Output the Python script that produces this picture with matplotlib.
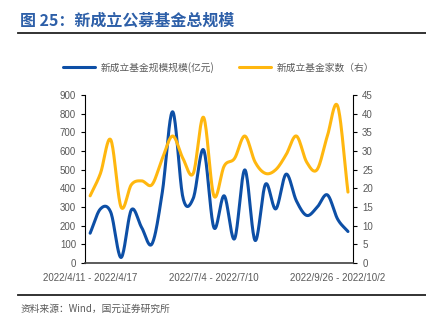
import numpy as np
import matplotlib
matplotlib.use("Agg")
import matplotlib.pyplot as plt

plt.rcParams["font.family"] = ["Liberation Sans", "Noto Sans CJK SC", "DejaVu Sans"]

# weekly data, 2022/4/11 onwards
weeks = list(range(26))
tick_pos = [0, 12, 24]
tick_labels = ["2022/4/11 - 2022/4/17", "2022/7/4 - 2022/7/10", "2022/9/26 - 2022/10/2"]
scale = [160, 290, 272, 30, 285, 190, 103, 380, 810, 350, 347, 606, 190, 360,
         130, 499, 121, 422, 290, 476, 333, 255, 298, 365, 235, 169]
counts = [18, 24, 33, 15, 21, 22, 21, 28, 34, 28, 24, 39, 18, 26,
          28, 34, 27, 24, 25, 29, 34, 27, 25, 34, 42, 19]

BLUE = "#0D4FA6"
YELLOW = "#FFB70F"
GREY = "#595959"


def smooth(x, y, n=20):
    # catmull-rom curve through the points, like excel's smoothed line
    x = np.asarray(x, float)
    y = np.asarray(y, float)
    px = np.concatenate([[2 * x[0] - x[1]], x, [2 * x[-1] - x[-2]]])
    py = np.concatenate([[2 * y[0] - y[1]], y, [2 * y[-1] - y[-2]]])
    xs, ys = [], []
    t = np.linspace(0, 1, n, endpoint=False)
    for i in range(1, len(px) - 2):
        for p, out in ((px, xs), (py, ys)):
            p0, p1, p2, p3 = p[i - 1], p[i], p[i + 1], p[i + 2]
            out.extend(0.5 * (2 * p1 + (-p0 + p2) * t
                              + (2 * p0 - 5 * p1 + 4 * p2 - p3) * t ** 2
                              + (-p0 + 3 * p1 - 3 * p2 + p3) * t ** 3))
    xs.append(x[-1])
    ys.append(y[-1])
    return np.array(xs), np.array(ys)


fig = plt.figure(figsize=(4.27, 3.24), dpi=100)
ax = fig.add_axes([0.199, 0.188, 0.628, 0.519])
ax2 = ax.twinx()

sx, sy = smooth(weeks, scale)
l1, = ax.plot(sx, sy, color=BLUE, lw=2.2, solid_capstyle="round")
cx, cy = smooth(weeks, counts)
l2, = ax2.plot(cx, cy, color=YELLOW, lw=2.2, solid_capstyle="round")

ax.set_xlim(-0.5, 25.5)
ax.set_ylim(0, 900)
ax.set_yticks(range(0, 901, 100))
ax2.set_ylim(0, 45)
ax2.set_yticks(range(0, 46, 5))
ax.set_xticks(tick_pos)
ax.set_xticklabels(tick_labels)

for a in (ax, ax2):
    a.tick_params(axis="y", labelsize=7, colors=GREY, length=3, width=0.8)
    for sp in a.spines.values():
        sp.set_visible(False)
ax.spines["left"].set_visible(True)
ax2.spines["right"].set_visible(True)
ax2.spines["bottom"].set_visible(True)
ax2.spines["bottom"].set_color("#404040")
ax2.spines["bottom"].set_linewidth(1.2)
ax.tick_params(axis="y", color="black")
ax2.tick_params(axis="y", color="black")
ax.tick_params(axis="x", labelsize=7, colors=GREY, length=0, pad=7)

fig.legend([l1, l2], ["新成立基金规模规模(亿元)", "新成立基金家数（右）"],
           loc="center", bbox_to_anchor=(0.512, 0.793), ncol=2, frameon=False,
           handlelength=3.3, columnspacing=2.6, handletextpad=0.5,
           prop={"family": ["Noto Sans CJK SC"], "size": 7}, labelcolor=GREY)

fig.text(0.047, 0.935, "图 25：新成立公募基金总规模", color="#2D5FA8",
         fontsize=11.5, fontweight="bold", va="center",
         family=["Noto Sans CJK SC", "DejaVu Sans"])
fig.add_artist(plt.Line2D([0.042, 1.0], [0.897, 0.897], color="#222222", lw=1.3))
fig.add_artist(plt.Line2D([0.042, 1.0], [0.09, 0.09], color="#222222", lw=1.3))
fig.text(0.047, 0.048, "资料来源：Wind，国元证券研究所", color=GREY, fontsize=7,
         va="center", family=["Noto Sans CJK SC", "DejaVu Sans"])

fig.savefig("out.png", dpi=100)
